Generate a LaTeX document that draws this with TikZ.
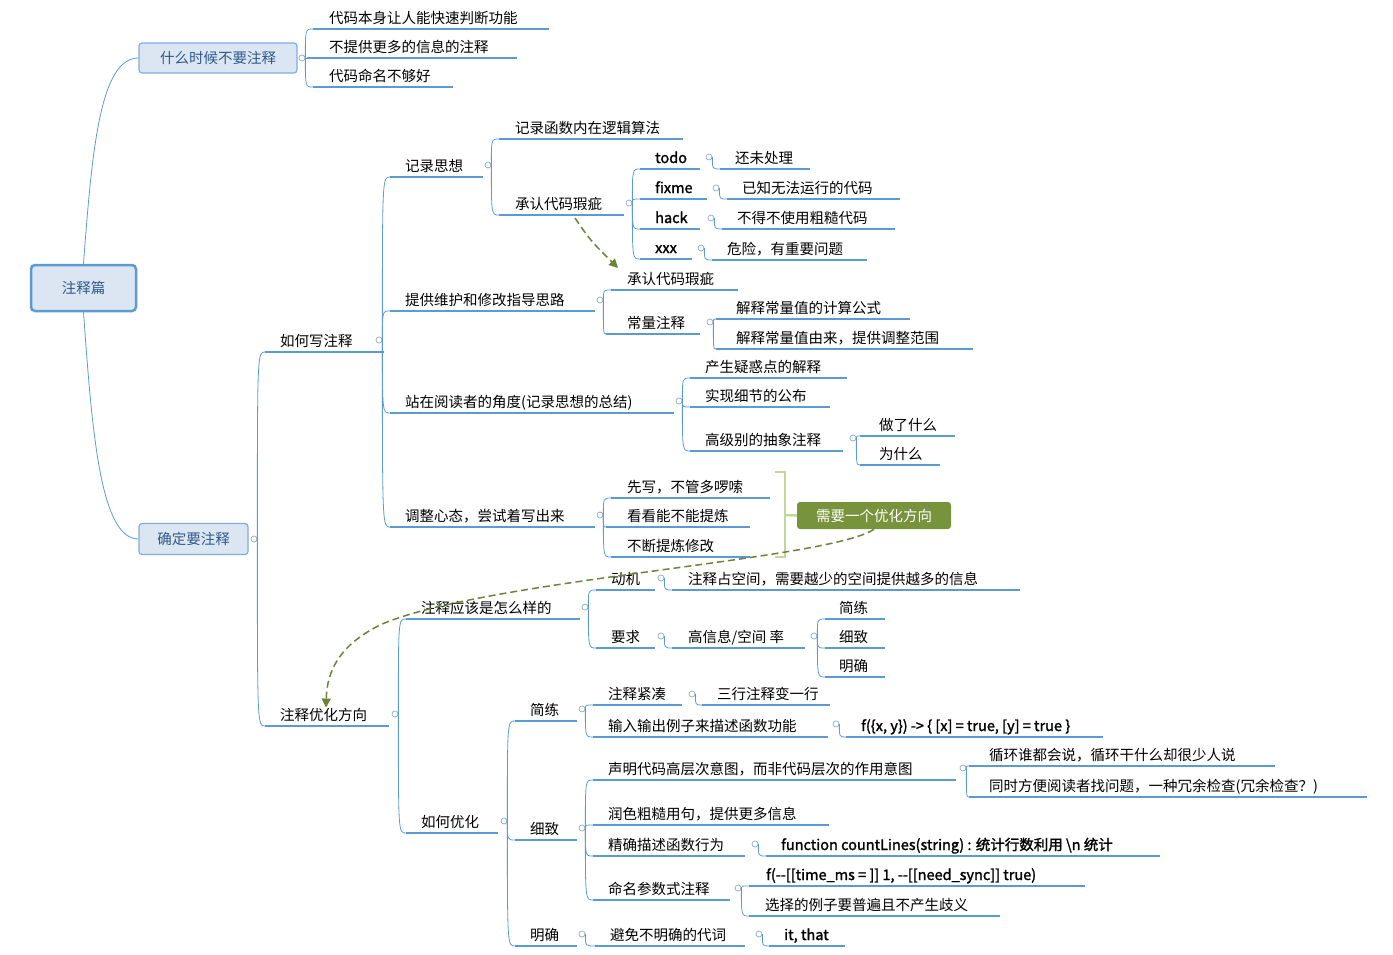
\documentclass[tikz,border=0pt]{standalone}
\usepackage{fontspec}
\setmainfont{Noto Sans CJK SC}
\newfontfamily\fbold{Noto Sans CJK SC}[FakeBold=1.6]
\usetikzlibrary{calc,arrows.meta}
\definecolor{lblue}{HTML}{5B9BD5}
\definecolor{cgray}{HTML}{8FA9C8}
\definecolor{boxfill}{HTML}{DCE6F2}
\definecolor{boxtext}{HTML}{2E5A8C}
\definecolor{gdark}{HTML}{77933C}
\definecolor{glight}{HTML}{C3D69B}
\tikzset{
 uline/.style={draw=lblue,line width=1.5pt},
 conn/.style={draw=lblue,line width=0.8pt},
 txt/.style={inner sep=0pt,font=\fontsize{14.5}{16}\selectfont},
 circ/.style={circle,draw=cgray,fill=white,line width=0.7pt,minimum size=6pt,inner sep=0pt},
 lbox/.style={draw=lblue!80,fill=boxfill,rounded corners=3pt,line width=1.2pt,text=boxtext,font=\fontsize{14.5}{16}\selectfont,inner sep=0pt},
 dasharr/.style={draw=gdark!90!black,dashed,line width=1.5pt,dash pattern=on 7pt off 4pt,-{Triangle[length=9pt,width=9pt]}}
}
\newcommand\mn[6]{\coordinate (#1-l) at (#2,#4);\coordinate (#1-r) at (#3,#4);
 \draw[uline] (#1-l) -- (#1-r);
 \node[txt,anchor=base west] (#1) at (#5,#4-6) {#6};}
\newcommand\cc[3]{\node[circ] (#1-c) at (#2,#3) {};}
\newcommand\cn[2]{\draw[conn] (#1-c.east) .. controls (#1-c.east |- #2-l) .. (#2-l);}
\begin{document}
\begin{tikzpicture}[x=1pt,y=-1pt]
\useasboundingbox (0,0) rectangle (1393,954);
% root
\node[lbox,draw=lblue,line width=2.5pt,minimum width=105pt,minimum height=46pt,rounded corners=4pt] (root) at (83.5,288) {注释篇};
\node[lbox,minimum width=158pt,minimum height=30pt] (b1) at (218,58) {什么时候不要注释};
\node[lbox,minimum width=109pt,minimum height=31pt] (b2) at (193.5,539) {确定要注释};
\draw[conn] (root.north) .. controls (92,150) and (100,58) .. (b1.west);
\draw[conn] (root.south) .. controls (92,430) and (100,539) .. (b2.west);
\cc{b1}{302}{58}
\cc{b2}{254}{539}
% b1 children
\mn{a1}{313}{549}{29}{329}{代码本身让人能快速判断功能}
\mn{a2}{307}{517}{58}{329}{不提供更多的信息的注释}
\mn{a3}{313}{453}{87}{329}{代码命名不够好}
\cn{b1}{a1}\cn{b1}{a2}\cn{b1}{a3}
% b2 children
\mn{hx}{265}{384}{352}{280}{如何写注释}\cc{hx}{379}{340}
\mn{zy}{265}{389}{726}{280}{注释优化方向}\cc{zy}{395}{714}
\cn{b2}{hx}\cn{b2}{zy}
% hx children
\mn{jl}{390}{483}{177}{405}{记录思想}\cc{jl}{488}{165}
\mn{tg}{390}{595}{311}{405}{提供维护和修改指导思路}\cc{tg}{600}{300}
\mn{zz}{390}{674}{413}{405}{站在阅读者的角度(记录思想的总结)}\cc{zz}{679}{401}
\mn{tz}{390}{595}{527}{405}{调整心态，尝试着写出来}\cc{tz}{600}{515}
\cn{hx}{jl}\cn{hx}{tg}\cn{hx}{zz}\cn{hx}{tz}
% jl children
\mn{jh}{499}{683}{139}{515}{记录函数内在逻辑算法}
\mn{cr}{499}{624}{215}{515}{承认代码瑕疵}\cc{cr}{629}{203}
\cn{jl}{jh}\cn{jl}{cr}
\mn{todo}{640}{700}{169}{655}{\fbold todo}\cc{todo}{709}{157}
\mn{fixme}{640}{707}{199}{655}{\fbold fixme}\cc{fixme}{716}{188}
\mn{hack}{640}{700}{229}{655}{\fbold hack}\cc{hack}{711}{218}
\mn{xxx}{640}{692}{259}{655}{\fbold xxx}\cc{xxx}{701}{248}
\cn{cr}{todo}\cn{cr}{fixme}\cn{cr}{hack}\cn{cr}{xxx}
\mn{t1}{720}{810}{169}{735}{还未处理}\cn{todo}{t1}
\mn{f1}{727}{900}{199}{742}{已知无法运行的代码}\cn{fixme}{f1}
\mn{h1}{722}{895}{229}{737}{不得不使用粗糙代码}\cn{hack}{h1}
\mn{x1}{712}{867}{260}{727}{危险，有重要问题}\cn{xxx}{x1}
% tg children
\mn{cr2}{611}{738}{290}{627}{承认代码瑕疵}
\mn{cl}{606}{700}{334}{627}{常量注释}\cc{cl}{710}{322}
\cn{tg}{cr2}\cn{tg}{cl}
\mn{cl1}{716}{910}{319}{736}{解释常量值的计算公式}
\mn{cl2}{716}{973}{349}{736}{解释常量值由来，提供调整范围}
\cn{cl}{cl1}\cn{cl}{cl2}
% zz children
\mn{z1}{690}{847}{378}{705}{产生疑惑点的解释}
\mn{z2}{690}{830}{407}{705}{实现细节的公布}
\mn{z3}{690}{843}{451}{705}{高级别的抽象注释}\cc{z3}{853}{438}
\cn{zz}{z1}\cn{zz}{z2}\cn{zz}{z3}
\mn{z31}{860}{955}{436}{879}{做了什么}
\mn{z32}{860}{940}{465}{879}{为什么}
\cn{z3}{z31}\cn{z3}{z32}
% tz children
\mn{s1}{611}{770}{498}{627}{先写，不管多啰嗦}
\mn{s2}{606}{750}{527}{627}{看看能不能提炼}
\mn{s3}{611}{750}{557}{627}{不断提炼修改}
\cn{tz}{s1}\cn{tz}{s2}\cn{tz}{s3}
\node[fill=gdark,text=white,rounded corners=3pt,minimum width=154pt,minimum height=27pt,inner sep=0pt,font=\fontsize{14.5}{16}\selectfont] (need) at (874,515.5) {需要一个优化方向};
\coordinate (br1) at (775,472);\coordinate (br2) at (775,557);
\draw[glight,line width=2.5pt] (br1) -- ++(10,0) -- ++(0,85) -- (br2);
\draw[glight,line width=2.5pt] (785,515) -- (need.west);
% zy children
\mn{yg}{406}{580}{619}{421}{注释应该是怎么样的}\cc{yg}{585}{607}
\mn{ry}{406}{498}{833}{421}{如何优化}\cc{ry}{504}{821}
\cn{zy}{yg}\cn{zy}{ry}
\mn{dj}{596}{655}{590}{611}{动机}\cc{dj}{661}{578}
\mn{yq}{596}{655}{648}{611}{要求}\cc{yq}{661}{636}
\cn{yg}{dj}\cn{yg}{yq}
\mn{dj1}{672}{1020}{590}{688}{注释占空间，需要越少的空间提供越多的信息}\cn{dj}{dj1}
\mn{yq1}{672}{805}{648}{688}{高信息/空间 率}\cc{yq1}{814}{636}\cn{yq}{yq1}
\mn{q1}{825}{885}{619}{839}{简练}
\mn{q2}{825}{885}{648}{839}{细致}
\mn{q3}{825}{885}{677}{839}{明确}
\cn{yq1}{q1}\cn{yq1}{q2}\cn{yq1}{q3}
% ry children
\mn{jn}{515}{577}{721}{530}{简练}\cc{jn}{582}{709}
\mn{xz}{515}{577}{840}{530}{细致}\cc{xz}{582}{828}
\mn{mq}{515}{577}{946}{530}{明确}\cc{mq}{582}{934}
\cn{ry}{jn}\cn{ry}{xz}\cn{ry}{mq}
\mn{j1}{593}{682}{705}{608}{注释紧凑}\cc{j1}{692}{694}
\mn{j2}{593}{828}{737}{608}{输入输出例子来描述函数功能}\cc{j2}{836}{724}
\cn{jn}{j1}\cn{jn}{j2}
\mn{j11}{702}{830}{705}{717}{三行注释变一行}\cn{j1}{j11}
\mn{j21}{846}{1103}{737}{861}{\fbold f(\{x, y\}) -> \{ [x] = true, [y] = true \}}\cn{j2}{j21}
\mn{x1a}{593}{956}{780}{608}{声明代码高层次意图，而非代码层次的作用意图}\cc{x1a}{963}{768}
\mn{x2a}{593}{829}{825}{608}{润色粗糙用句，提供更多信息}
\mn{x3a}{593}{745}{856}{608}{精确描述函数行为}\cc{x3a}{755}{844}
\mn{x4a}{593}{730}{900}{608}{命名参数式注释}\cc{x4a}{738}{888}
\cn{xz}{x1a}\cn{xz}{x2a}\cn{xz}{x3a}\cn{xz}{x4a}
\mn{x11}{969}{1275}{766}{989}{循环谁都会说，循环干什么却很少人说}
\mn{x12}{969}{1367}{797}{989}{同时方便阅读者找问题，一种冗余检查(冗余检查？)}
\cn{x1a}{x11}\cn{x1a}{x12}
\mn{x31}{766}{1160}{856}{781}{\fbold function countLines(string) : 统计行数利用 \textbackslash n 统计}\cn{x3a}{x31}
\mn{x41}{749}{1085}{886}{766}{\fbold f(--[[time\_ms = ]] 1, --[[need\_sync]] true)}
\mn{x42}{749}{1000}{916}{765}{选择的例子要普遍且不产生歧义}
\cn{x4a}{x41}\cn{x4a}{x42}
\mn{m1}{595}{745}{946}{610}{避免不明确的代词}\cc{m1}{759}{934}\cn{mq}{m1}
\mn{m11}{769}{845}{946}{784}{\fbold it, that}\cn{m1}{m11}
% dashed arrows
\draw[dasharr] (need.south) .. controls (830,560) and (480,580) .. (380,625) .. controls (340,645) and (327,670) .. (zy.north -| 326,0);
\coordinate (da) at (575,218);\coordinate (db) at (618,268);
\draw[dasharr] (da) .. controls (590,240) .. (db);
\end{tikzpicture}
\end{document}
